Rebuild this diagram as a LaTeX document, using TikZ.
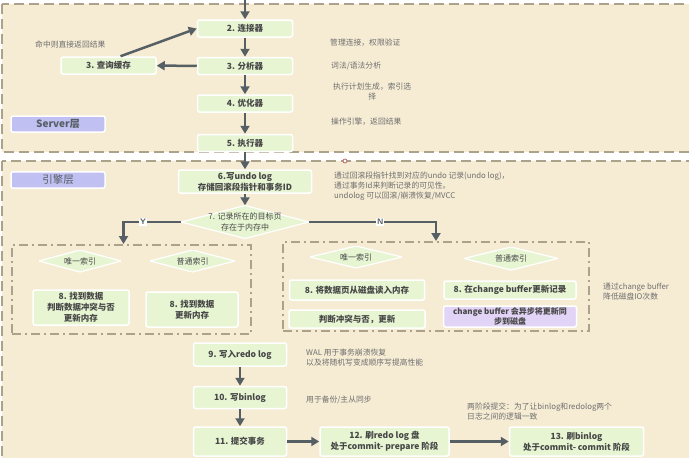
\documentclass[tikz,border=0pt]{standalone}
\usepackage{fontspec}
\newfontfamily\cjk{Noto Sans CJK SC}
\usetikzlibrary{arrows.meta,positioning,shapes.geometric}
\definecolor{ink}{RGB}{85,95,100}
\definecolor{paper}{RGB}{246,236,212}
\definecolor{rim}{RGB}{172,162,140}
\definecolor{leaf}{RGB}{231,245,211}
\definecolor{lav}{RGB}{192,192,242}
\definecolor{lilac}{RGB}{226,212,246}
\definecolor{memo}{RGB}{110,110,110}
\definecolor{pinred}{RGB}{170,60,60}
\tikzset{
  layer/.style={draw=rim,fill=paper,line width=2pt,dash pattern=on 10pt off 5pt},
  grp/.style={draw=rim,line width=2pt,dash pattern=on 9pt off 4pt on 2pt off 4pt},
  box/.style={draw=white,fill=leaf,line width=1.5pt,rounded corners=2pt,inner sep=1pt,
    font=\cjk\bfseries\fontsize{8.5}{11}\selectfont,text=black!72,align=center},
  dia/.style={inner sep=0pt,font=\cjk\fontsize{8}{10.5}\selectfont,text=black!72,align=center,
    path picture={\fill[leaf,draw=white,line width=1.2pt] (path picture bounding box.west)
      -- (path picture bounding box.north) -- (path picture bounding box.east)
      -- (path picture bounding box.south) -- cycle;}},
  tag/.style={draw=white,fill=lav,line width=1.5pt,rounded corners=2pt,minimum width=94pt,
    minimum height=16pt,font=\cjk\bfseries\fontsize{10}{12}\selectfont,text=ink},
  note/.style={font=\cjk\fontsize{7.8}{10}\selectfont,text=memo,align=left,anchor=west,inner sep=0pt},
  arr/.style={-{Triangle[length=8pt,width=9pt]},line width=2.5pt,draw=ink},
  yn/.style={font=\sffamily\bfseries\fontsize{8}{8}\selectfont,fill=white,inner sep=1pt,text=ink},
  pin/.style={circle,draw=pinred,fill=white,line width=0.6pt,inner sep=0pt,minimum size=4pt},
}
\begin{document}
\begin{tikzpicture}[x=1pt,y=-1pt,node distance=19pt]
  \fill[white] (0,0) rectangle (689,458);
  \useasboundingbox (0,0) rectangle (689,458);

  % server layer
  \draw[layer] (2,4) rectangle (720,152);
  \node[tag] (srv) at (58,124) {Server层};
  \node[box,minimum width=95pt,minimum height=17pt] (n2) at (245,28.5) {2. 连接器};
  \node[box,minimum width=95pt,minimum height=17pt,below=of n2] (n3) {3. 分析器};
  \node[box,minimum width=95pt,minimum height=17pt,below=of n3] (n4) {4. 优化器};
  \node[box,minimum width=95pt,minimum height=17pt,below=21pt of n4] (n5) {5. 执行器};
  \node[box,minimum width=95pt,minimum height=17pt] (cache) at (108.5,65.5) {3. 查询缓存};
  \coordinate (entry) at (245,-4);
  \draw[arr] (entry) -- (n2);
  \foreach \a/\b in {n2/n3,n3/n4,n4/n5}
    \draw[arr] (\a) -- (\b);
  \draw[arr] (n3) -- (cache);
  \draw[arr] ([xshift=12pt]cache.north) -- (n2.west);
  \node[note] (hit) at (35,44) {命中则直接返回结果};
  \node[note] (c2) at (330,43) {管理连接，权限验证};
  \node[note] (c3) at (331,66) {词法/语法分析};
  \node[note,align=center] (c4) at (333,92) {执行计划生成，索引选\\择};
  \node[note] (c5) at (331,122) {操作引擎，返回结果};

  % engine layer
  \draw[layer] (2,161) rectangle (720,480);
  \node[pin] (mark) at (345,161) {};
  \node[tag,font=\cjk\fontsize{10.5}{12}\selectfont] (eng) at (58,180) {引擎层};
  \node[box,minimum width=133pt,minimum height=23pt] (n6) at (245,181.5)
    {6.写undo log\\存储回滚段指针和事务ID};
  \draw[arr] (n5) -- (n6);
  \node[note] (c6) at (334,186) {通过回滚段指针找到对应的undo 记录(undo log)，\\
    通过事务Id来判断记录的可见性。\\undolog 可以回滚/崩溃恢复/MVCC};
  \node[dia,minimum width=128pt,minimum height=33pt] (n7) at (245,222)
    {7. 记录所在的目标页\\存在于内存中};
  \draw[arr] (n6) -- (n7);

  % hit / miss groups
  \node[grp,minimum width=239pt,minimum height=89pt] (hitgrp) at (131.5,289.5) {};
  \node[grp,minimum width=306pt,minimum height=89pt] (missgrp) at (436,286.5) {};
  \draw[arr] (n7) -| ([xshift=-8pt]hitgrp.north) node[yn,pos=0.33] {Y};
  \draw[arr] (n7) -| (missgrp.north) node[yn,pos=0.28] {N};

  \node[dia,minimum width=82pt,minimum height=22pt] (uniqL) at (80,261) {唯一索引};
  \node[dia,minimum width=85pt,minimum height=22pt] (normL) at (192.5,261) {普通索引};
  \node[box,minimum width=96pt,minimum height=35pt] (n8a) at (81,307.5)
    {8. 找到数据\\判断数据冲突与否\\更新内存};
  \node[box,minimum width=92pt,minimum height=35pt] (n8b) at (192,309.5)
    {8. 找到数据\\更新内存};

  \node[dia,minimum width=92pt,minimum height=22pt] (uniqR) at (356,257) {唯一索引};
  \node[dia,minimum width=94pt,minimum height=23pt] (normR) at (511,258.5) {普通索引};
  \node[box,minimum width=135pt,minimum height=20pt] (n8c) at (357,290) {8. 将数据页从磁盘读入内存};
  \node[box,minimum width=136pt,minimum height=18pt] (n8d) at (357,319) {判断冲突与否，更新};
  \node[box,minimum width=132pt,minimum height=18pt] (n8e) at (510,290) {8. 在change buffer更新记录};
  \node[box,fill=lilac,minimum width=133pt,minimum height=21pt,
    font=\cjk\bfseries\fontsize{8}{10}\selectfont] (n8f) at (510,316.5)
    {change buffer 会异步将更新同\\步到磁盘};
  \node[note] (c8) at (603,292) {通过change buffer\\降低磁盘IO次数};

  % commit
  \node[box,minimum width=93pt,minimum height=23pt] (n9) at (240,354.5) {9. 写入redo log};
  \node[box,minimum width=93pt,minimum height=22pt,below=of n9] (n10) {10. 写binlog};
  \node[box,minimum width=93pt,minimum height=29pt,below=17pt of n10] (n11) {11. 提交事务};
  \node[box,minimum width=129pt,minimum height=29pt,right=32pt of n11] (n12)
    {12. 刷redo log 盘\\处于commit- prepare 阶段};
  \node[box,minimum width=134pt,minimum height=29pt,right=59pt of n12] (n13)
    {13. 刷binlog\\处于commit- commit 阶段};
  \foreach \a/\b in {n9/n10,n10/n11,n11/n12,n12/n13}
    \draw[arr] (\a) -- (\b);
  \node[note] (c9) at (306,357.5) {WAL 用于事务崩溃恢复\\以及将随机写变成顺序写提高性能};
  \node[note] (c10) at (306,400) {用于备份/主从同步};
  \node[note] (c12) at (467,412) {两阶段提交：为了让binlog和redolog两个\\日志之间的逻辑一致};
\end{tikzpicture}
\end{document}
